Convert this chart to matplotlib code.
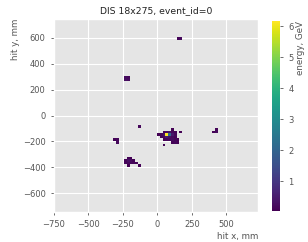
import numpy as np
import matplotlib
matplotlib.use("Agg")
import matplotlib.pyplot as plt

# calorimeter hits (cell centre, mm) and deposited energy (GeV)
hit_x = [150, 170,
         -230, -210, -230, -210,
         -130,
         -310, -290, -290,
         -210, -190,
         -230, -210, -190, -170,
         -230, -210, -190, -170, -150,
         -210, -130,
         110,
         50, 70, 90, 110, 130, 170,
         10, 30, 50, 70, 90, 110, 130,
         30, 50, 70, 90, 110, 130,
         50, 70, 90, 110, 130, 150,
         110, 130, 150,
         50,
         430, 410, 430]
hit_y = [590, 590,
         290, 290, 270, 270,
         -90,
         -190, -190, -210,
         -330, -330,
         -350, -350, -350, -350,
         -370, -370, -370, -370, -370,
         -390, -390,
         -110,
         -130, -130, -130, -130, -130, -130,
         -150, -150, -150, -150, -150, -150, -150,
         -170, -170, -170, -170, -170, -170,
         -190, -190, -190, -190, -190, -190,
         -210, -210, -210,
         -230,
         -110, -130, -130]
hit_energy = [0.12, 0.20,
              0.25, 0.18, 0.30, 0.22,
              0.15,
              0.10, 0.14, 0.20,
              0.10, 0.08,
              0.12, 0.30, 0.25, 0.10,
              0.15, 0.20, 0.18, 0.12, 0.09,
              0.06, 0.10,
              0.08,
              0.10, 0.20, 0.30, 0.15, 0.10, 0.07,
              0.04, 0.12, 0.35, 6.16, 2.10, 0.40, 0.15,
              0.10, 0.20, 0.50, 0.30, 0.20, 0.10,
              0.08, 0.15, 0.20, 0.25, 0.12, 0.06,
              0.10, 0.15, 0.07,
              0.09,
              0.12, 0.10, 0.20]

x_ticks = [-750, -500, -250, 0, 250, 500]
y_ticks = [-600, -400, -200, 0, 200, 400, 600]

plt.style.use("ggplot")
fig = plt.figure(figsize=(3.08, 2.42), dpi=100)
ax = fig.add_axes([0.175, 0.124, 0.663, 0.797])
cax = fig.add_axes([0.882, 0.129, 0.027, 0.784])

# bin hits into 20 mm cells, empty cells left transparent
edges = np.arange(-740, 741, 20)
H, _, _ = np.histogram2d(hit_x, hit_y, bins=[edges, edges], weights=hit_energy)
H = np.ma.masked_where(H <= 0, H)
im = ax.imshow(H.T, origin="lower", extent=[edges[0], edges[-1], edges[0], edges[-1]],
               aspect="auto", interpolation="nearest", cmap="viridis", zorder=3)
ax.set_axisbelow(True)
ax.set_xlim(-750, 730)
ax.set_ylim(-745, 745)
ax.set_xticks(x_ticks)
ax.set_yticks(y_ticks)
ax.tick_params(labelsize=6, length=2.5, width=0.6)
ax.set_title("DIS 18x275, event_id=0", fontsize=6.7, color="#222222", pad=4)
ax.set_xlabel("hit x, mm", fontsize=6.3, loc="right", labelpad=2)
ax.set_ylabel("hit y, mm", fontsize=6.3, loc="top", labelpad=2)

cb = fig.colorbar(im, cax=cax)
cb.set_ticks([1, 2, 3, 4, 5, 6])
cb.ax.tick_params(labelsize=6, length=2.5, width=0.6, colors="#555555")
cb.set_label("energy, GeV", fontsize=6.3, color="#555555", loc="top", labelpad=2)
cb.outline.set_visible(False)

fig.savefig("out.png", dpi=100)
